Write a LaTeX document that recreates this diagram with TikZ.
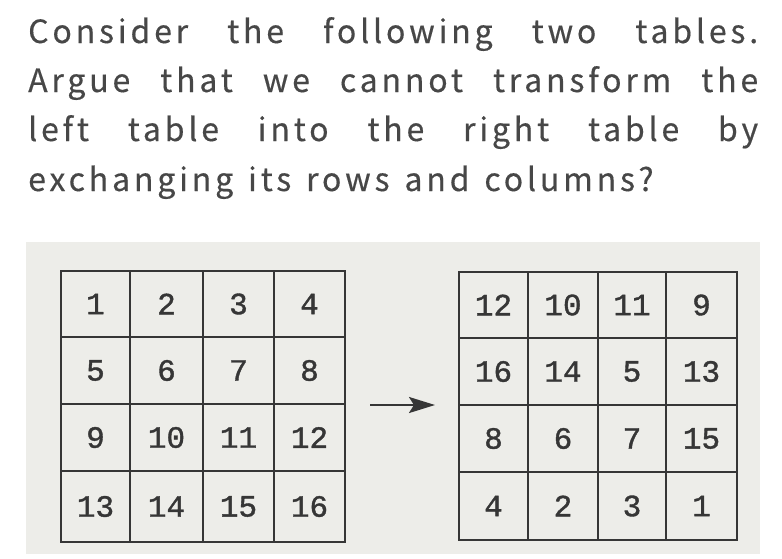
\documentclass[tikz,border=0pt]{standalone}
\usepackage{fontspec}
\setmainfont{Noto Sans CJK SC}[LetterSpace=12,FakeBold=0.4,WordSpace=1.35]
\newfontfamily\cellfont{Liberation Mono}[FakeBold=1.2]
\usetikzlibrary{arrows.meta}
\definecolor{txt}{HTML}{474747}
\definecolor{scan}{HTML}{EDEDE9}
\definecolor{ink}{HTML}{363636}
\begin{document}
\begin{tikzpicture}[x=1pt,y=-1pt,
  qline/.style={font=\fontsize{32}{49}\selectfont, text=txt, anchor=base west, inner sep=0pt},
  gridline/.style={draw=ink, line width=2.5pt},
  num/.style={font=\cellfont\fontsize{31}{31}\selectfont, text=ink, inner sep=0pt}]
\useasboundingbox (0,0) rectangle (782,558);
\fill[scan] (26,242) rectangle (760,554);
% question text
\node[qline] (l1) at (28,43) {\makebox[730pt][s]{Consider the following two tables.}};
\node[qline] (l2) at (28,92) {\makebox[730pt][s]{Argue that we cannot transform the}};
\node[qline] (l3) at (28,141) {\makebox[730pt][s]{left table into the right table by}};
\node[qline] (l4) at (28,191) {exchanging its rows and columns?};
% left table grid
\draw[gridline] (61,271) rectangle (345,542);
\foreach \x in {130,203,274} \draw[gridline] (\x,271) -- (\x,542);
\foreach \y in {337,404,471} \draw[gridline] (61,\y) -- (345,\y);
% right table grid
\draw[gridline] (459,272) rectangle (737,540);
\foreach \x in {528,598,666} \draw[gridline] (\x,272) -- (\x,540);
\foreach \y in {338,405,472} \draw[gridline] (459,\y) -- (737,\y);
% left numbers
\foreach \v [count=\k from 0] in {1,2,3,4,5,6,7,8,9,10,11,12,13,14,15,16} {
  \pgfmathtruncatemacro\c{mod(\k,4)}
  \pgfmathtruncatemacro\r{div(\k,4)}
  \pgfmathsetmacro\xx{{95.5,166.5,238.5,309.5}[\c]}
  \pgfmathsetmacro\yy{{304,370.5,437.5,506.5}[\r]}
  \node[num] (L\k) at (\xx,\yy) {\v};
}
% right numbers
\foreach \v [count=\k from 0] in {12,10,11,9,16,14,5,13,8,6,7,15,4,2,3,1} {
  \pgfmathtruncatemacro\c{mod(\k,4)}
  \pgfmathtruncatemacro\r{div(\k,4)}
  \pgfmathsetmacro\xx{{493.5,563,632,701.5}[\c]}
  \pgfmathsetmacro\yy{{305,371.5,438.5,506}[\r]}
  \node[num] (R\k) at (\xx,\yy) {\v};
}
% arrow
\coordinate (as) at (370,405);
\coordinate (ae) at (435,405);
\draw[line width=2.5pt, draw=ink, -{Stealth[length=26pt,width=16pt,inset=5pt,fill=ink]}] (as) -- (ae);
\end{tikzpicture}
\end{document}
